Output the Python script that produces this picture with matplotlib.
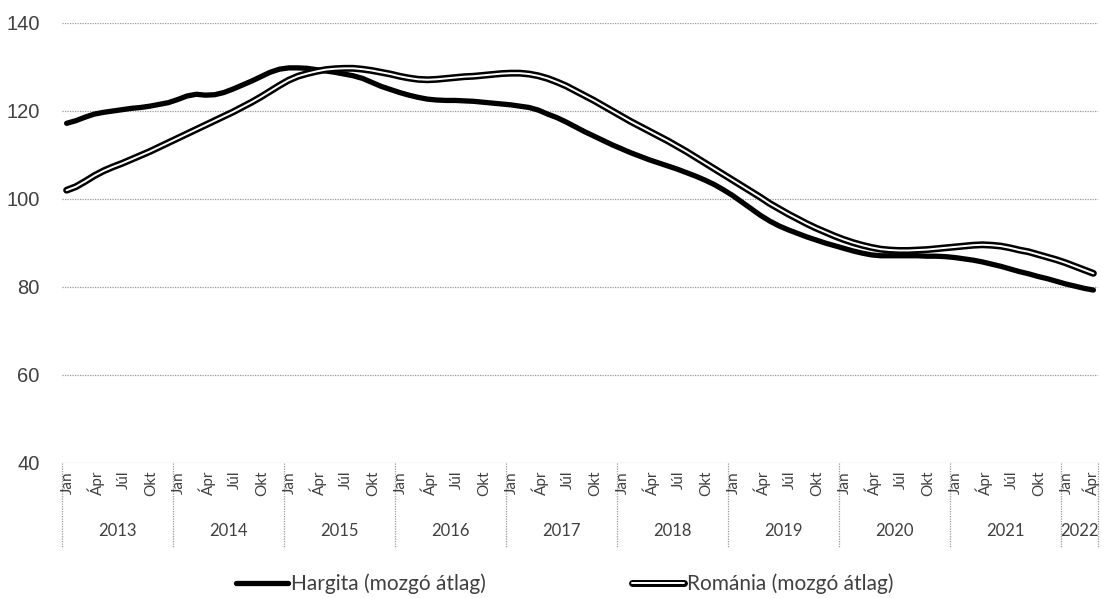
import matplotlib
matplotlib.use("Agg")
import matplotlib.pyplot as plt
import matplotlib.patheffects as pe
import matplotlib.transforms as mtransforms

years = ["2013", "2014", "2015", "2016", "2017", "2018", "2019", "2020", "2021", "2022"]
month_labels = ["Jan", "Ápr", "Júl", "Okt"]
y_ticks = [40, 60, 80, 100, 120, 140]

hargita = [
    117.2, 117.8, 118.6, 119.3, 119.7, 120.0, 120.3, 120.6, 120.8, 121.1, 121.5, 121.9,
    122.6, 123.4, 123.8, 123.6, 123.7, 124.2, 125.0, 125.9, 126.8, 127.8, 128.8, 129.5,
    129.8, 129.8, 129.7, 129.4, 129.1, 128.8, 128.4, 128.0, 127.4, 126.5, 125.6, 124.9,
    124.2, 123.6, 123.1, 122.7, 122.5, 122.4, 122.4, 122.3, 122.2, 122.0, 121.8, 121.6,
    121.4, 121.1, 120.8, 120.2, 119.3, 118.5, 117.5, 116.4, 115.3, 114.3, 113.3, 112.3,
    111.4, 110.5, 109.7, 108.9, 108.2, 107.5, 106.8, 106.0, 105.2, 104.3, 103.3, 102.1,
    100.8, 99.3, 97.8, 96.3, 95.0, 93.9, 93.0, 92.2, 91.4, 90.7, 90.0, 89.4,
    88.8, 88.2, 87.7, 87.3, 87.1, 87.1, 87.1, 87.1, 87.1, 87.0, 87.0, 86.9,
    86.7, 86.4, 86.1, 85.7, 85.2, 84.7, 84.1, 83.5, 83.0, 82.4, 81.9, 81.3,
    80.7, 80.2, 79.7, 79.3,
]

romania = [
    102.0, 102.8, 104.0, 105.3, 106.4, 107.3, 108.1, 109.0, 109.9, 110.8, 111.8, 112.8,
    113.8, 114.8, 115.8, 116.8, 117.8, 118.8, 119.8, 120.9, 122.0, 123.2, 124.5, 125.8,
    127.0, 127.9, 128.5, 129.0, 129.4, 129.6, 129.7, 129.7, 129.5, 129.2, 128.8, 128.4,
    127.9, 127.5, 127.2, 127.1, 127.2, 127.4, 127.6, 127.8, 127.9, 128.1, 128.3, 128.5,
    128.6, 128.6, 128.4, 128.0, 127.4, 126.6, 125.7, 124.6, 123.5, 122.4, 121.2, 120.0,
    118.8, 117.6, 116.5, 115.4, 114.3, 113.2, 112.0, 110.8, 109.5, 108.2, 106.9, 105.6,
    104.3, 103.0, 101.7, 100.4, 99.0, 97.8, 96.6, 95.5, 94.4, 93.4, 92.5, 91.6,
    90.8, 90.1, 89.5, 89.0, 88.6, 88.4, 88.3, 88.3, 88.4, 88.5, 88.7, 88.9,
    89.1, 89.3, 89.5, 89.6, 89.5, 89.3, 88.9, 88.4, 88.0, 87.4, 86.8, 86.2,
    85.5, 84.7, 83.9, 83.1,
]

n = len(hargita)
x = list(range(n))

fig = plt.figure(figsize=(11.03, 5.98), dpi=100)
ax = fig.add_axes([62 / 1103, 135 / 598, 1036 / 1103, 440 / 598])

grid_color = "#9a9a9a"
text_color = "#404040"
dot = (0, (1, 1))

ax.plot(x, hargita, color="black", lw=3.8, solid_capstyle="round",
        label="Hargita (mozgó átlag)", zorder=3)
ax.plot(x, romania, color="white", lw=1.4, solid_capstyle="round",
        path_effects=[pe.Stroke(linewidth=5.0, foreground="black"), pe.Normal()],
        label="Románia (mozgó átlag)", zorder=4)

ax.set_xlim(-0.5, n - 0.5)
ax.set_ylim(40, 140)
ax.set_yticks(y_ticks)
for yv in y_ticks:
    ax.axhline(yv, color=grid_color, lw=0.9, ls=dot, zorder=1)

for s in ax.spines.values():
    s.set_visible(False)
ax.tick_params(axis="y", length=0, pad=16, labelsize=14.5, labelcolor=text_color)
for lab in ax.get_yticklabels():
    lab.set_fontfamily("Liberation Sans")
ax.set_xticks([])

trans = mtransforms.blended_transform_factory(ax.transData, ax.transAxes)

# month labels
for m in range(n):
    if m % 3 == 0:
        xpos = m + 0.15 if m < n - 1 else m - 0.25
        ax.text(xpos, -0.018, month_labels[(m % 12) // 3], rotation=90,
                ha="center", va="top", fontsize=11, color=text_color,
                family="Lato", transform=trans, clip_on=False)

# separators between years
seps = [-0.5 + 12 * k for k in range(len(years))] + [n - 0.5]
for sx in seps:
    ax.plot([sx, sx], [0, -0.19], transform=trans, color=grid_color, lw=0.9,
            ls=dot, clip_on=False)

# year labels
for k, yr in enumerate(years):
    start = -0.5 + 12 * k
    end = min(start + 12, n - 0.5)
    ax.text((start + end) / 2, -0.155, yr, ha="center", va="center",
            fontsize=12, color=text_color, family="Lato", transform=trans,
            clip_on=False)

leg = fig.legend(loc="center", bbox_to_anchor=(0.512, 0.024), ncol=2, frameon=False,
                 handlelength=2.5, handletextpad=0.15, columnspacing=7.0,
                 prop={"family": "Lato", "size": 15})
for t in leg.get_texts():
    t.set_color(text_color)

fig.savefig("out.png", dpi=100)
